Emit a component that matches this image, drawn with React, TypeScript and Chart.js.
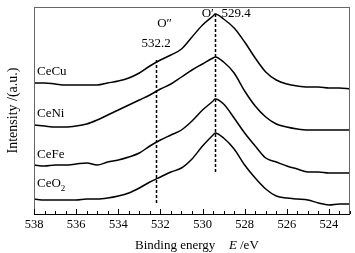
import React, { useEffect, useRef } from "react";
import { Chart, registerables } from "chart.js";

Chart.register(...registerables);

const energies = [538, 537.5, 537, 536.5, 536, 535.5, 535, 534.5, 534, 533.5, 533, 532.5, 532, 531.5, 531, 530.5, 530, 529.5, 529.4, 529, 528.5, 528, 527.5, 527, 526.5, 526, 525.5, 525, 524.5, 524, 523.5, 523];
const ceCu = [131, 131, 130, 129, 129, 129, 129, 131, 133, 136, 141, 148, 154, 159, 165, 177, 189, 198, 200, 195, 186, 172, 156, 142, 134, 130, 128, 127, 127, 126, 126, 125];
const ceNi = [89, 88, 87, 87, 88, 90, 94, 99, 104, 109, 114, 119, 125, 130, 137, 144, 150, 156, 157, 152, 141, 123, 108, 97, 90, 87, 85, 84, 84, 84, 84, 84];
const ceFe = [49, 48, 49, 49, 50, 51, 49, 52, 54, 57, 61, 68, 74, 79, 84, 93, 104, 113, 115, 110, 96, 81, 68, 56, 52, 48, 45, 42, 42, 41, 41, 41];
const ceO2 = [15, 14, 14, 14, 14, 15, 15, 16, 18, 21, 26, 32, 37, 42, 46, 55, 68, 79, 81, 76, 65, 49, 36, 25, 18, 16, 15, 14, 11, 9, 10, 10];

const seriesNames = ["CeCu", "CeNi", "CeFe", "CeO2"];
const seriesValues = [ceCu, ceNi, ceFe, ceO2];
const labelY = [142, 100, 59, 30];

const majorTicks = [538, 536, 534, 532, 530, 528, 526, 524];
const minorTicks = [537.5, 537, 536.5, 535.5, 535, 534.5, 533.5, 533, 532.5, 531.5, 531, 530.5, 529.5, 529, 528.5, 527.5, 527, 526.5, 525.5, 525, 524.5, 523.5, 523];

const peakLines = [
  { x: 532.2, y0: 11, y1: 155 },
  { x: 529.4, y0: 42, y1: 202 },
];

const SERIF = "'Liberation Serif', 'DejaVu Serif', serif";

const decorPlugin = {
  id: "decor",
  afterDatasetsDraw(chart: any) {
    const ctx = chart.ctx as CanvasRenderingContext2D;
    const xs = chart.scales.x;
    const ys = chart.scales.y;
    const a = chart.chartArea;
    ctx.save();
    // dashed lines
    ctx.strokeStyle = "#000";
    ctx.lineWidth = 1.5;
    ctx.setLineDash([3, 2]);
    for (const l of peakLines) {
      const px = Math.round(xs.getPixelForValue(l.x)) + 0.5;
      ctx.beginPath();
      ctx.moveTo(px, ys.getPixelForValue(l.y0));
      ctx.lineTo(px, ys.getPixelForValue(l.y1));
      ctx.stroke();
    }
    ctx.setLineDash([]);
    // frame
    ctx.strokeStyle = "#666";
    ctx.lineWidth = 1;
    ctx.strokeRect(a.left + 0.5, a.top + 0.5, a.right - a.left - 1, a.bottom - a.top);
    ctx.strokeStyle = "#000";
    ctx.beginPath();
    ctx.moveTo(a.left, a.bottom + 0.5);
    ctx.lineTo(a.right, a.bottom + 0.5);
    ctx.stroke();
    // ticks
    ctx.beginPath();
    for (const t of majorTicks) {
      const px = Math.round(xs.getPixelForValue(t)) + 0.5;
      ctx.moveTo(px, a.bottom);
      ctx.lineTo(px, a.bottom - 5);
    }
    for (const t of minorTicks) {
      const px = Math.round(xs.getPixelForValue(t)) + 0.5;
      ctx.moveTo(px, a.bottom);
      ctx.lineTo(px, a.bottom - 3);
    }
    ctx.stroke();
    // tick labels
    ctx.fillStyle = "#000";
    ctx.font = `12.5px ${SERIF}`;
    ctx.textAlign = "center";
    ctx.textBaseline = "middle";
    for (const t of majorTicks) {
      ctx.fillText(String(t), xs.getPixelForValue(t), a.bottom + 11);
    }
    // x title
    ctx.font = `13px ${SERIF}`;
    ctx.textAlign = "left";
    ctx.fillText("Binding energy", 135, a.bottom + 32);
    ctx.font = `italic 13px ${SERIF}`;
    ctx.fillText("E", 229, a.bottom + 32);
    ctx.font = `13px ${SERIF}`;
    ctx.fillText("/eV", 240, a.bottom + 32);
    // y title
    ctx.save();
    ctx.translate(13, (a.top + a.bottom) / 2);
    ctx.rotate(-Math.PI / 2);
    ctx.textAlign = "center";
    ctx.font = `14px ${SERIF}`;
    ctx.fillText("Intensity /(a.u.)", 0, 0);
    ctx.restore();
    // series labels
    ctx.textAlign = "left";
    ctx.font = `13px ${SERIF}`;
    const lx = a.left + 3;
    for (let i = 0; i < seriesNames.length; i++) {
      const py = ys.getPixelForValue(labelY[i]);
      if (seriesNames[i] === "CeO2") {
        ctx.fillText("CeO", lx, py);
        const w = ctx.measureText("CeO").width;
        ctx.font = `9px ${SERIF}`;
        ctx.fillText("2", lx + w, py + 5);
        ctx.font = `13px ${SERIF}`;
      } else {
        ctx.fillText(seriesNames[i], lx, py);
      }
    }
    // peak labels
    ctx.textAlign = "center";
    ctx.fillText("O\u2033", xs.getPixelForValue(531.8), ys.getPixelForValue(190));
    ctx.fillText("532.2", xs.getPixelForValue(532.2), ys.getPixelForValue(170));
    ctx.fillText("O\u2032", xs.getPixelForValue(529.75), ys.getPixelForValue(200));
    ctx.fillText("529.4", xs.getPixelForValue(528.4), ys.getPixelForValue(200));
    ctx.restore();
  },
};

export default function App() {
  const ref = useRef<HTMLCanvasElement | null>(null);
  useEffect(() => {
    document.body.style.margin = "0";
    const canvas = ref.current!;
    const chart = new Chart(canvas, {
      type: "line",
      data: {
        datasets: seriesValues.map((vals, i) => ({
          label: seriesNames[i],
          data: energies.map((e, j) => ({ x: e, y: vals[j] })),
          borderColor: "#000",
          borderWidth: 1.5,
          pointRadius: 0,
          cubicInterpolationMode: "monotone" as const,
          fill: false,
        })),
      },
      options: {
        animation: false,
        responsive: false,
        devicePixelRatio: 1,
        layout: { padding: { left: 34, top: 7, right: 5, bottom: 39 } },
        plugins: { legend: { display: false }, tooltip: { enabled: false } },
        scales: {
          x: { type: "linear", min: 523, max: 538, reverse: true, display: false },
          y: { type: "linear", min: 0, max: 207, display: false },
        },
      },
      plugins: [decorPlugin],
    });
    return () => chart.destroy();
  }, []);
  return <canvas ref={ref} width={355} height={253} style={{ display: "block" }} />;
}
